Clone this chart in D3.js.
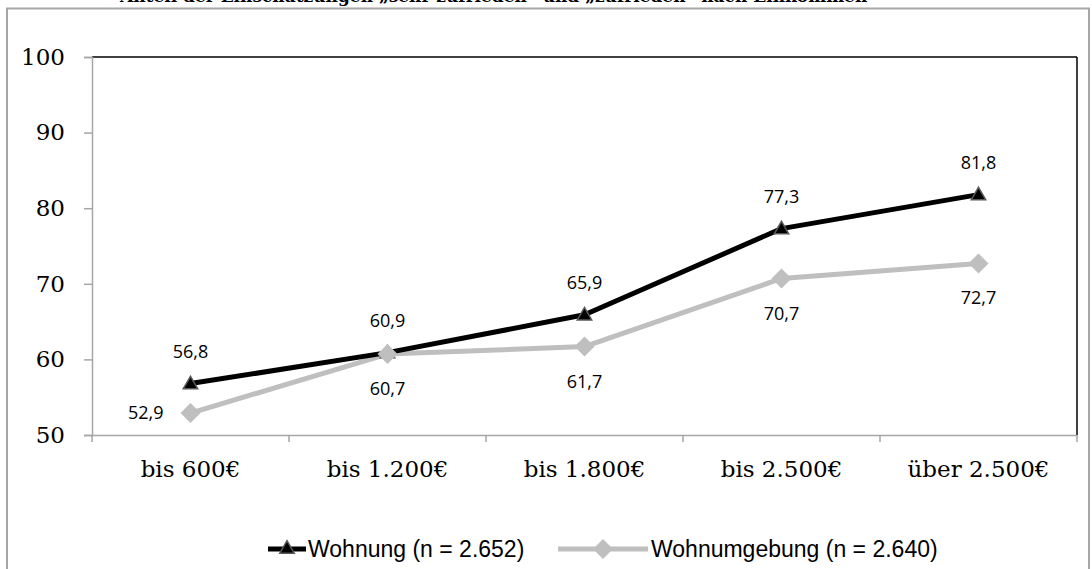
<!DOCTYPE html>
<html><head><meta charset="utf-8">
<script src="https://cdn.jsdelivr.net/npm/d3@7"></script>
<style>body{margin:0;background:#fff}svg{display:block}</style>
</head><body>
<svg id="c" width="1092" height="569"></svg>
<script>
const categories = ["bis 600€","bis 1.200€","bis 1.800€","bis 2.500€","über 2.500€"];
const wohnung = [56.8,60.9,65.9,77.3,81.8];
const wohnumgebung = [52.9,60.7,61.7,70.7,72.7];
const yTicks = [50,60,70,80,90,100];
const seriesNames = ["Wohnung (n = 2.652)","Wohnumgebung (n = 2.640)"];
const title = "Anteil der Einschätzungen „sehr zufrieden“ und „zufrieden“ nach Einkommen";

const svg = d3.select("#c");
const L=92,R=1077,T=57,B=435;
const x = d3.scaleBand().domain(categories).range([L,R]);
const y = d3.scaleLinear().domain([50,100]).range([B,T]);
const cx = c => x(c)+x.bandwidth()/2;
const fmt = v => d3.format(".1f")(v).replace(".",",");

// title (cut off by the top edge, as in the reference)
svg.append("text").attr("x",120).attr("y",1.5).attr("font-family","DejaVu Serif")
  .attr("font-weight","bold").attr("font-size",17).attr("fill","#000").text(title);

// outer border
svg.append("rect").attr("x",7).attr("y",8.5).attr("width",1082).attr("height",600)
  .attr("fill","none").attr("stroke","#a6a6a6").attr("stroke-width",2);

// plot frame top/right
svg.append("line").attr("x1",L).attr("x2",R).attr("y1",T).attr("y2",T).attr("stroke","#000").attr("stroke-width",1.5);
svg.append("line").attr("x1",R).attr("x2",R).attr("y1",T).attr("y2",B).attr("stroke","#000").attr("stroke-width",1.5);

// y axis
const ya = svg.append("g").attr("transform",`translate(${L},0)`)
  .call(d3.axisLeft(y).tickValues(yTicks).tickSize(8).tickPadding(19));
ya.select(".domain").attr("stroke","#a6a6a6").attr("stroke-width",1.5);
ya.selectAll(".tick line").attr("stroke","#a6a6a6").attr("stroke-width",1.5);
ya.selectAll(".tick text").attr("font-family","DejaVu Serif").attr("font-size",23).attr("fill","#000");

// x axis
const xa = svg.append("g").attr("transform",`translate(0,${B})`)
  .call(d3.axisBottom(x).tickSize(0).tickPadding(26));
xa.select(".domain").attr("stroke","#a6a6a6").attr("stroke-width",1.5);
xa.selectAll(".tick text").attr("font-family","DejaVu Serif").attr("font-size",23).attr("fill","#000");
const bounds = categories.map(c=>x(c)).concat([R]);
svg.append("g").selectAll("line").data(bounds).join("line")
  .attr("x1",d=>d).attr("x2",d=>d).attr("y1",B).attr("y2",B+7)
  .attr("stroke","#a6a6a6").attr("stroke-width",1.5);

const line = d3.line().x((d,i)=>cx(categories[i])).y(d=>y(d));
svg.append("path").datum(wohnumgebung).attr("d",line).attr("fill","none")
  .attr("stroke","#bfbfbf").attr("stroke-width",5).attr("stroke-linejoin","round");
svg.append("path").datum(wohnung).attr("d",line).attr("fill","none")
  .attr("stroke","#000").attr("stroke-width",5).attr("stroke-linejoin","round");

const tri = d3.symbol().type(d3.symbolTriangle).size(90);
const dia = s => `M0,${-s}L${s},0L0,${s}L${-s},0Z`;

svg.append("g").selectAll("path").data(wohnung).join("path")
  .attr("transform",(d,i)=>`translate(${cx(categories[i])},${y(d)+1})`)
  .attr("d",tri()).attr("fill","#000").attr("stroke","#595959").attr("stroke-width",1.5);
svg.append("g").selectAll("path").data(wohnumgebung).join("path")
  .attr("transform",(d,i)=>`translate(${cx(categories[i])},${y(d)})`)
  .attr("d",dia(10)).attr("fill","#bfbfbf");

const lf = "Open Sans";
svg.append("g").selectAll("text").data(wohnung).join("text")
  .attr("x",(d,i)=>cx(categories[i])).attr("y",d=>y(d)-26)
  .attr("text-anchor","middle").attr("font-family",lf).attr("font-size",18).text(fmt);
svg.append("g").selectAll("text").data(wohnumgebung).join("text")
  .attr("x",(d,i)=>i===0?cx(categories[i])-27:cx(categories[i]))
  .attr("y",(d,i)=>i===0?y(d)+6:y(d)+41)
  .attr("text-anchor",(d,i)=>i===0?"end":"middle")
  .attr("font-family",lf).attr("font-size",18).text(fmt);

// legend
const ly = 549;
const lg = svg.append("g");
lg.append("line").attr("x1",268).attr("x2",306).attr("y1",ly).attr("y2",ly).attr("stroke","#000").attr("stroke-width",5);
lg.append("path").attr("transform",`translate(287,${ly})`).attr("d",tri()).attr("fill","#000").attr("stroke","#595959").attr("stroke-width",1.5);
lg.append("text").attr("x",308).attr("y",ly+8).attr("font-family","Liberation Sans").attr("font-size",23).text(seriesNames[0]);
lg.append("line").attr("x1",558).attr("x2",648).attr("y1",ly).attr("y2",ly).attr("stroke","#bfbfbf").attr("stroke-width",5);
lg.append("path").attr("transform",`translate(603,${ly})`).attr("d",dia(10)).attr("fill","#bfbfbf");
lg.append("text").attr("x",651).attr("y",ly+8).attr("font-family","Liberation Sans").attr("font-size",23).text(seriesNames[1]);
</script>
</body></html>
